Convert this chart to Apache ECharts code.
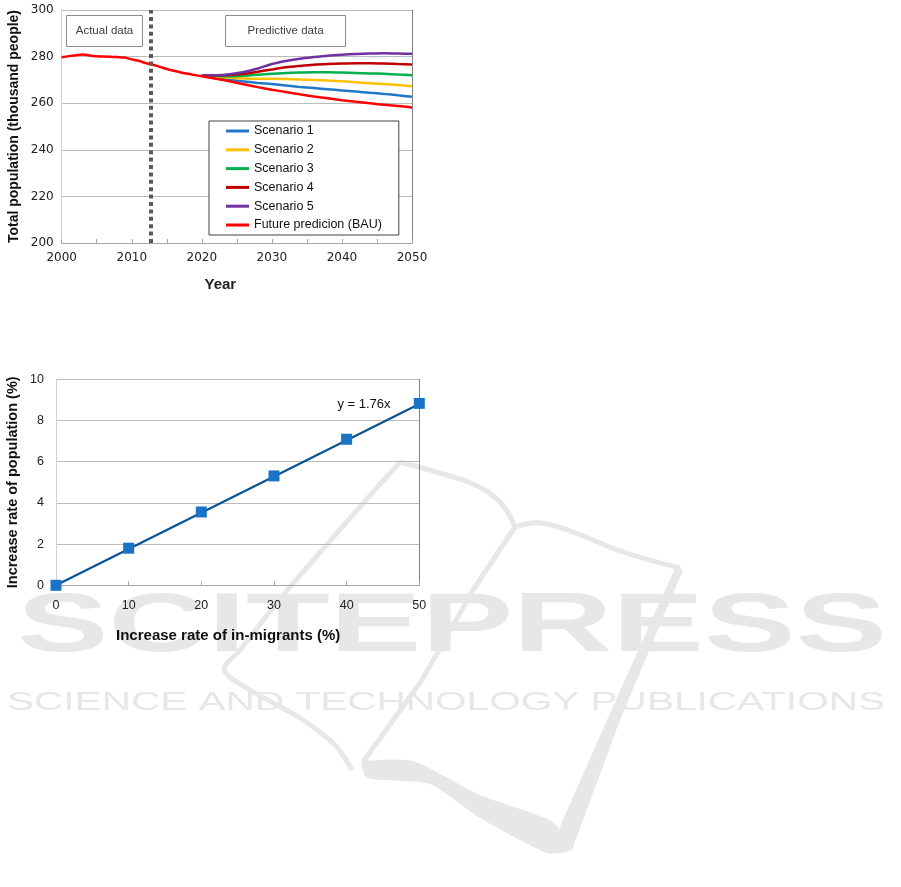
<!DOCTYPE html>
<html><head><meta charset="utf-8">
<script src="https://cdn.jsdelivr.net/npm/echarts@6/dist/echarts.min.js"></script>
<style>html,body{margin:0;padding:0;background:#fff}#c{width:901px;height:887px}</style>
</head><body><div id="c"></div>
<script>
// ---------- Chart 1 data ----------
const bauYears = [2000,2001,2002,2003,2004,2005,2006,2007,2008,2009,2010,2011,2012,2013,2014,2015,2016,2017,2018,2019,2020,2022,2024,2026,2028,2030,2032,2034,2036,2038,2040,2042,2044,2046,2048,2050];
const bauValues = [279.7,280.2,280.6,280.9,280.5,280.2,280.0,279.9,279.8,279.6,278.8,278.2,277.2,276.5,275.6,274.7,273.9,273.2,272.6,272.1,271.6,270.5,269.4,268.1,266.9,265.8,264.8,263.8,262.9,262.1,261.3,260.6,260.0,259.3,258.8,258.2];
const scenarioYears = [2020,2022,2024,2026,2028,2030,2032,2034,2036,2038,2040,2042,2044,2046,2048,2050];
const scenario1 = [271.8,271.0,270.1,269.3,268.7,268.2,267.6,267.0,266.5,266.0,265.5,265.0,264.5,264.0,263.4,262.8];
const scenario2 = [271.9,271.4,270.9,270.6,270.5,270.5,270.4,270.2,270.0,269.7,269.4,269.0,268.6,268.2,267.8,267.3];
const scenario3 = [272.0,271.7,271.6,271.8,272.2,272.6,273.0,273.2,273.3,273.3,273.2,273.0,272.8,272.6,272.3,272.0];
const scenario4 = [272.0,272.0,272.1,272.6,273.5,274.5,275.4,276.0,276.5,276.8,277.0,277.1,277.1,277.0,276.8,276.6];
const scenario5 = [272.0,272.0,272.4,273.4,274.9,276.8,278.1,279.1,279.8,280.4,280.8,281.1,281.3,281.4,281.3,281.2];
const seriesNames1 = ['Scenario 1','Scenario 2','Scenario 3','Scenario 4','Scenario 5','Future predicion (BAU)'];
const seriesColors1 = ['#1f78c8','#ffc000','#00b050','#c00000','#7030a0','#ff0000'];
const dividerYear = [2012.7];
const periodLabels = ['Actual data','Predictive data'];

// ---------- Chart 2 data ----------
const migrantRates = [0,10,20,30,40,50];
const populationIncrease = [0,1.80,3.56,5.31,7.09,8.83];
const trendX = [0,50];
const trendY = [0,8.8];
const trendLabel = 'y = 1.76x';

// ---------- watermark ----------
const wmTitle = 'SCITEPRESS';
const wmSub = 'SCIENCE AND TECHNOLOGY PUBLICATIONS';

function pairs(xs, ys){ return xs.map((x,i)=>[x, ys[i]]); }
function measure(txt, font){ const c=document.createElement('canvas').getContext('2d'); c.font=font; return c.measureText(txt).width; }

const WM = '#e6e7e6';
const tW = measure(wmTitle, 'bold 84px "Liberation Sans"'), sW = measure(wmSub, '26px "Liberation Sans"');

const chart = echarts.init(document.getElementById('c'), null, {renderer:'canvas'});

const scen = [scenario1,scenario2,scenario3,scenario4,scenario5];
const lineSeries = scen.map((d,i)=>({
  name: seriesNames1[i], type:'line', xAxisIndex:0, yAxisIndex:0,
  data: pairs(scenarioYears, d), smooth:0.3, showSymbol:false, symbol:'none',
  lineStyle:{width:2.5, color:seriesColors1[i]}, itemStyle:{color:seriesColors1[i]}, z:3
}));
lineSeries.push({
  name: seriesNames1[5], type:'line', xAxisIndex:0, yAxisIndex:0,
  data: pairs(bauYears, bauValues), smooth:0.3, showSymbol:false, symbol:'none',
  lineStyle:{width:2.5, color:seriesColors1[5]}, itemStyle:{color:seriesColors1[5]}, z:4,
  markLine:{silent:true, symbol:['none','none'], label:{show:false},
    lineStyle:{color:'#595959', width:4, type:[4,3.4]},
    data: dividerYear.map(v=>({xAxis:v}))}
});

const plain = v => String(v);
const tickFont1 = {fontFamily:'DejaVu Sans', fontSize:12, color:'#222', formatter:plain};
const tickFont2 = {fontFamily:'Liberation Sans', fontSize:12.5, color:'#222', formatter:plain};

const option = {
  animation:false,
  backgroundColor:'#fff',
  grid:[
    {left:61.7, right:901-412, top:10, bottom:887-243, outerBoundsMode:'none', containLabel:false},
    {left:56, right:901-419.3, top:379.3, bottom:887-585.3, outerBoundsMode:'none', containLabel:false}
  ],
  xAxis:[
    {type:'value', gridIndex:0, min:2000, max:2050, interval:10,
     axisLine:{show:true, lineStyle:{color:'#a6a6a6', width:1}},
     axisTick:{show:true, inside:true, length:4, lineStyle:{color:'#a6a6a6'}},
     minorTick:{show:true, splitNumber:2, length:4, lineStyle:{color:'#a6a6a6'}},
     axisLabel:{...tickFont1, margin:9},
     splitLine:{show:false},
     name:'Year', nameLocation:'middle', nameGap:34,
     nameTextStyle:{fontFamily:'Liberation Sans', fontWeight:'bold', fontSize:15, color:'#222', padding:[0,33,0,0]}},
    {type:'value', gridIndex:1, min:0, max:50, interval:10,
     axisLine:{show:true, lineStyle:{color:'#a6a6a6', width:1}},
     axisTick:{show:true, inside:true, length:4, lineStyle:{color:'#a6a6a6'}},
     axisLabel:{...tickFont2, margin:14},
     splitLine:{show:false},
     name:'Increase rate of in-migrants (%)', nameLocation:'middle', nameGap:43,
     nameTextStyle:{fontFamily:'Liberation Sans', fontWeight:'bold', fontSize:15, color:'#111', padding:[0,19,0,0]}}
  ],
  yAxis:[
    {type:'value', gridIndex:0, min:200, max:300, interval:20,
     axisLine:{show:true, lineStyle:{color:'#d0d0d0'}},
     axisTick:{show:false},
     axisLabel:{...tickFont1, margin:8},
     splitLine:{show:true, lineStyle:{color:'#bcbcbc', width:1}},
     name:'Total population (thousand people)', nameLocation:'middle', nameGap:41, nameRotate:90,
     nameTextStyle:{fontFamily:'Liberation Sans', fontWeight:'bold', fontSize:14, color:'#111'}},
    {type:'value', gridIndex:0, min:200, max:300, interval:20, position:'right',
     axisLine:{show:true, lineStyle:{color:'#808080'}}, axisTick:{show:false}, axisLabel:{show:false}, splitLine:{show:false}},
    {type:'value', gridIndex:1, min:0, max:10, interval:2,
     axisLine:{show:true, lineStyle:{color:'#d0d0d0'}},
     axisTick:{show:false},
     axisLabel:{...tickFont2, margin:12},
     splitLine:{show:true, lineStyle:{color:'#bcbcbc', width:1}},
     name:'Increase rate of population (%)', nameLocation:'middle', nameGap:36, nameRotate:90,
     nameTextStyle:{fontFamily:'Liberation Sans', fontWeight:'bold', fontSize:14.5, color:'#111'}},
    {type:'value', gridIndex:1, min:0, max:10, interval:2, position:'right',
     axisLine:{show:true, lineStyle:{color:'#808080'}}, axisTick:{show:false}, axisLabel:{show:false}, splitLine:{show:false}}
  ],
  legend:{
    data: seriesNames1, orient:'vertical', left:209, top:121,
    backgroundColor:'#fff', borderColor:'#404040', borderWidth:1, borderRadius:0,
    padding:[3,17,3,17], itemGap:4.8, itemWidth:23, itemHeight:3, itemTextGap:3, icon:'rect',
    textStyle:{fontFamily:'Liberation Sans', fontSize:12.5, color:'#111', lineHeight:14},
    selectedMode:false
  },
  series:[
    ...lineSeries,
    {name:'trend', type:'line', xAxisIndex:1, yAxisIndex:2, data:pairs(trendX, trendY),
     symbol:'none', showSymbol:false, lineStyle:{color:'#0b5393', width:2.2}, z:3, silent:true},
    {name:'points', type:'scatter', xAxisIndex:1, yAxisIndex:2, data:pairs(migrantRates, populationIncrease),
     symbol:'rect', symbolSize:11, itemStyle:{color:'#1a73c6', opacity:1}, z:4, silent:true}
  ],
  graphic:{elements:[
    // watermark
    {type:'text', x:17, y:628, z:-10, scaleX:870/tW, style:{text:wmTitle, font:'bold 84px "Liberation Sans"', fill:WM, align:'left', verticalAlign:'middle'}},
    {type:'text', x:7, y:703, z:-10, scaleX:878/sW, style:{text:wmSub, font:'26px "Liberation Sans"', fill:WM, align:'left', verticalAlign:'middle'}},
    {type:'polyline', z:-10, shape:{points:[[400,462],[290,587],[240,650],[224,670],[250,690],[300,718],[335,745],[352,770]], smooth:0.3}, style:{stroke:WM, lineWidth:5, fill:null}},
    {type:'polyline', z:-10, shape:{points:[[400,462],[440,473],[473,484],[500,502],[515,527]], smooth:0.4}, style:{stroke:WM, lineWidth:5, fill:null}},
    {type:'polyline', z:-10, shape:{points:[[515,527],[540,523],[573,532],[623,552],[680,568]], smooth:0.4}, style:{stroke:WM, lineWidth:5, fill:null}},
    {type:'polyline', z:-10, shape:{points:[[515,527],[473,590],[422,680],[363,762]]}, style:{stroke:WM, lineWidth:5, fill:null}},
    {type:'polygon', z:-10, shape:{points:[[676,566],[683,570],[620,720],[572,850],[550,852],[562,822],[607,720]]}, style:{fill:WM}},
    {type:'polygon', z:-10, shape:{points:[[362,762],[413,761],[480,795],[553,822],[570,850],[547,853],[480,818],[430,784],[367,778]], smooth:0.2}, style:{fill:WM}},
    // period boxes
    {type:'rect', shape:{x:66.5, y:15.5, width:76, height:31}, z:10, style:{fill:'#fff', stroke:'#8c8c8c', lineWidth:1}},
    {type:'text', x:104.5, y:31, z:11, style:{text:periodLabels[0], fontFamily:'Liberation Sans', fontSize:11.5, fill:'#404040', align:'center', verticalAlign:'middle'}},
    {type:'rect', shape:{x:225.5, y:15.5, width:120, height:31}, z:10, style:{fill:'#fff', stroke:'#8c8c8c', lineWidth:1}},
    {type:'text', x:285.5, y:31, z:11, style:{text:periodLabels[1], fontFamily:'Liberation Sans', fontSize:11.5, fill:'#404040', align:'center', verticalAlign:'middle'}},
    {type:'text', x:364, y:404, z:11, style:{text:trendLabel, fontFamily:'Liberation Sans', fontSize:13, fill:'#111', align:'center', verticalAlign:'middle'}}
  ]}
};
chart.setOption(option);
</script></body></html>
